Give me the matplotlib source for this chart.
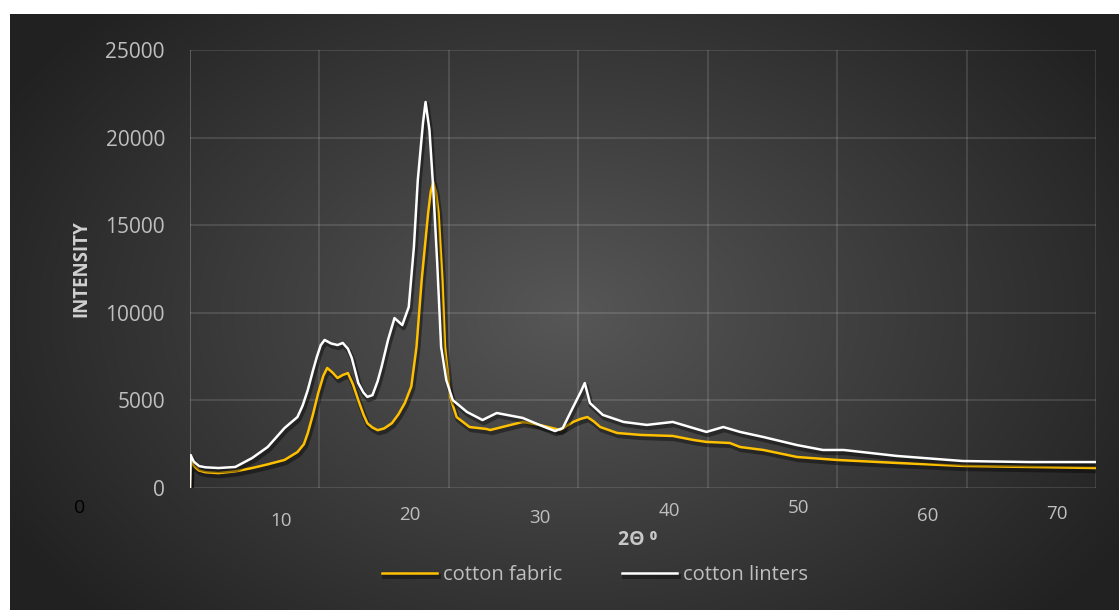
import numpy as np
import matplotlib
matplotlib.use("Agg")
import matplotlib.pyplot as plt
import matplotlib.patheffects as pe
from matplotlib.transforms import ScaledTranslation

plt.rcParams['font.family'] = ['Open Sans', 'DejaVu Sans']

# XRD scans: 2-theta (deg) and intensity (counts)
theta_fabric = [3.0, 3.05, 3.3, 3.7, 4.2, 5.2, 6.5, 7.8, 9.0, 10.3, 11.3, 11.8, 12.1, 12.5,
                12.9, 13.3, 13.6, 14.0, 14.4, 14.8, 15.2, 15.6, 16.0, 16.4, 16.7, 17.1,
                17.5, 18.0, 18.6, 19.1, 19.6, 20.1, 20.5, 20.9, 21.4, 21.6, 21.8, 22.0,
                22.2, 22.5, 22.7, 23.1, 23.6, 24.6, 25.9, 26.2, 27.5, 28.7, 30.0, 31.6,
                32.6, 33.2, 33.7, 34.2, 34.7, 36.0, 37.8, 40.3, 41.9, 42.9, 44.7, 45.5,
                47.3, 49.9, 53.0, 57.6, 62.7, 67.9, 73.0]
int_fabric = [0, 1600, 1250, 1000, 900, 850, 950, 1140, 1350, 1600, 2050, 2500, 3130, 4200,
              5400, 6400, 6850, 6600, 6280, 6450, 6560, 5900, 5020, 4200, 3700, 3450,
              3300, 3400, 3700, 4200, 4850, 5800, 8050, 11870, 15700, 16900, 17470, 16900,
              15700, 11870, 8050, 5200, 4050, 3480, 3370, 3310, 3550, 3770, 3600, 3310,
              3770, 3950, 4050, 3800, 3480, 3140, 3030, 2970, 2740, 2630, 2570, 2340,
              2170, 1770, 1600, 1430, 1260, 1200, 1140]

theta_linters = [3.0, 3.05, 3.3, 3.7, 4.2, 5.2, 6.5, 7.8, 9.0, 10.3, 11.3, 11.7, 12.1, 12.5,
                 12.8, 13.1, 13.4, 13.9, 14.4, 14.8, 15.2, 15.5, 16.0, 16.4, 16.7, 17.1,
                 17.5, 17.8, 18.3, 18.8, 19.4, 19.9, 20.3, 20.6, 21.0, 21.2, 21.5, 21.8,
                 22.1, 22.4, 22.8, 23.3, 24.4, 25.6, 26.7, 28.7, 30.0, 31.2, 31.8, 32.6,
                 33.2, 33.5, 33.9, 34.9, 36.5, 38.3, 40.3, 42.9, 44.2, 45.5, 47.3, 49.9,
                 51.9, 53.5, 57.6, 62.7, 67.9, 73.0]
int_linters = [0, 1880, 1500, 1250, 1180, 1140, 1200, 1710, 2340, 3420, 4050, 4700, 5590, 6700,
               7480, 8150, 8450, 8250, 8160, 8280, 7950, 7420, 5990, 5450, 5200, 5300,
               6100, 6910, 8450, 9700, 9300, 10330, 13760, 17580, 20830, 22030, 20430, 17000,
               12840, 8050, 6160, 5020, 4340, 3880, 4280, 4000, 3600, 3250, 3420, 4620,
               5500, 5990, 4850, 4170, 3770, 3600, 3770, 3200, 3480, 3200, 2910, 2450,
               2170, 2170, 1830, 1540, 1480, 1480]

xtick_vals = [10, 20, 30, 40, 50, 60, 70]
xtick_dy = [-5, -1, -3, 2, 4, -2, 0]   # label nudges in points
ytick_vals = [0, 5000, 10000, 15000, 20000, 25000]

W, H = 1119, 610
fig = plt.figure(figsize=(W / 100, H / 100), dpi=100)
fig.patch.set_facecolor('white')

# dark radial-gradient chart background
bg = fig.add_axes([10 / W, 0, (W - 10) / W, (H - 14) / H], zorder=-10)
gy, gx = np.mgrid[0:596, 0:1109]
r = np.sqrt(((gx - 560) / 620.0) ** 2 + ((gy - 300) / 420.0) ** 2)
shade = np.clip(0.34 - 0.2 * r, 0.13, 0.34)
bg.imshow(np.dstack([shade] * 3), aspect='auto', interpolation='bilinear')
bg.axis('off')

ax = fig.add_axes([190 / W, (H - 488) / H, (1096 - 190) / W, (488 - 50) / H])
ax.set_facecolor('none')

shadow = [pe.SimpleLineShadow(offset=(1.0, -2.0), shadow_color='black', alpha=0.4,
                              linewidth=3.5), pe.Normal()]
ax.plot(theta_fabric, int_fabric, color='#FFC000', lw=1.8, label='cotton fabric',
        path_effects=shadow, zorder=3)
ax.plot(theta_linters, int_linters, color='#FFFFFF', lw=1.8, label='cotton linters',
        path_effects=shadow, zorder=4)

ax.set_xlim(3, 73)
ax.set_ylim(0, 25000)
ax.set_yticks(ytick_vals)
ax.set_xticks(xtick_vals)
ax.set_xticks(np.arange(3, 74, 10), minor=True)
ax.grid(False)
ax.grid(True, which='minor', axis='x', color='#ffffff', alpha=0.14, lw=1.2)
ax.grid(True, which='major', axis='y', color='#ffffff', alpha=0.14, lw=1.2)
for s in ax.spines.values():
    s.set_visible(False)
ax.axvline(3, color='#ffffff', alpha=0.14, lw=1.2)
ax.tick_params(which='both', length=0)
ax.tick_params(axis='y', labelsize=15, labelcolor='#bfbfbf', pad=18)
ax.tick_params(axis='x', labelsize=13.5, labelcolor='#bfbfbf', pad=12)
for lab, dy in zip(ax.get_xticklabels(), xtick_dy):
    lab.set_transform(lab.get_transform() + ScaledTranslation(0, dy / 72, fig.dpi_scale_trans))

ax.set_ylabel('INTENSITY', fontsize=13.5, fontweight='bold', color='#d0d0d0', labelpad=10)
fig.text(638 / W, 1 - 540 / H, '2Θ ⁰', fontsize=14, fontweight='bold', color='#c8c8c8',
         ha='center', va='center')
fig.text(80 / W, 1 - 508 / H, '0', fontsize=14, color='black', ha='center', va='center')

leg = ax.legend(loc='center', bbox_to_anchor=(595 / W, 1 - 575 / H),
                bbox_transform=fig.transFigure, ncol=2, frameon=False, fontsize=14.5,
                handlelength=2.7, handletextpad=0.3, columnspacing=3.0)
for t in leg.get_texts():
    t.set_color('#bfbfbf')

fig.savefig('out.png', dpi=100)
